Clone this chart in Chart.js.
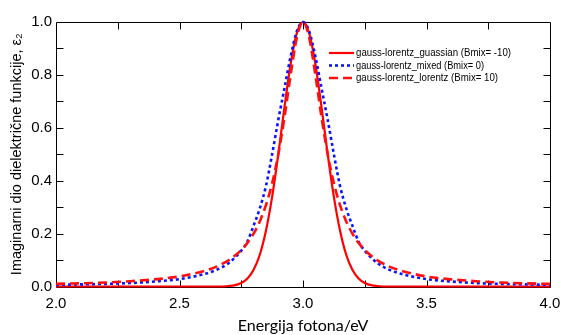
<!DOCTYPE html>
<html>
<head>
<meta charset="utf-8">
<script src="https://cdn.jsdelivr.net/npm/chart.js@4.4.1/dist/chart.umd.min.js"></script>
<style>
  html, body { margin: 0; padding: 0; background: #fff; }
</style>
</head>
<body>
<canvas id="myChart" width="564" height="335"></canvas>
<script>
// energija fotona (eV)
const energy = [2.0, 2.1, 2.2, 2.3, 2.4, 2.5, 2.6, 2.65, 2.7, 2.725, 2.75, 2.775, 2.8, 2.825, 2.85, 2.875, 2.9, 2.925, 2.95, 2.975, 3.0,
                3.025, 3.05, 3.075, 3.1, 3.125, 3.15, 3.175, 3.2, 3.225, 3.25, 3.275, 3.3, 3.35, 3.4, 3.5, 3.6, 3.7, 3.8, 3.9, 4.0]

// Bmix = -10
const gaussian = [0, 0, 0, 0, 0, 0, 0, 0, 0.002, 0.005, 0.013, 0.030, 0.063, 0.120, 0.211, 0.339, 0.500, 0.678, 0.841, 0.958, 1.000,
                  0.958, 0.841, 0.678, 0.500, 0.339, 0.211, 0.120, 0.063, 0.030, 0.013, 0.005, 0.002, 0, 0, 0, 0, 0, 0, 0, 0]

// Bmix = 0
const mixed = [0.006, 0.008, 0.010, 0.013, 0.019, 0.028, 0.047, 0.063, 0.089, 0.110, 0.135, 0.170, 0.230, 0.295, 0.380, 0.500, 0.630, 0.750, 0.870, 0.965, 1.000,
               0.965, 0.870, 0.750, 0.630, 0.500, 0.380, 0.295, 0.230, 0.170, 0.135, 0.110, 0.089, 0.063, 0.047, 0.028, 0.019, 0.013, 0.010, 0.008, 0.006]

// Bmix = 10
const lorentz = [0.010, 0.012, 0.015, 0.020, 0.027, 0.038, 0.059, 0.075, 0.100, 0.117, 0.138, 0.165, 0.200, 0.246, 0.308, 0.390, 0.500, 0.640, 0.800, 0.941, 1.000,
                 0.941, 0.800, 0.640, 0.500, 0.390, 0.308, 0.246, 0.200, 0.165, 0.138, 0.117, 0.100, 0.075, 0.059, 0.038, 0.027, 0.020, 0.015, 0.012, 0.010]

const seriesLabels = ['gauss-lorentz_guassian (Bmix= -10)', 'gauss-lorentz_mixed (Bmix= 0)', 'gauss-lorentz_lorentz (Bmix= 10)']

const xMinorTicks = [2.25, 2.5, 2.75, 3.0, 3.25, 3.5, 3.75]
const yMinorTicks = [0.1, 0.2, 0.3, 0.4, 0.5, 0.6, 0.7, 0.8, 0.9]

const fontFamily = '"Liberation Sans", Arial, sans-serif'

function toPoints(arr) {
    return energy.map((x, i) => ({ x: x, y: arr[i] }))
}

// okvir i unutarnje crtice
const framePlugin = {
    id: 'frame',
    beforeDatasetsDraw(chart) {
        const { ctx, chartArea: a, scales } = chart
        const L = Math.round(a.left) + 0.5, R = Math.round(a.right) + 0.5
        const T = Math.round(a.top) + 0.5, B = Math.round(a.bottom) + 0.5
        const len = 7
        ctx.save()
        ctx.strokeStyle = '#000'
        ctx.lineWidth = 1
        ctx.beginPath()
        ctx.rect(L, T, R - L, B - T)
        xMinorTicks.forEach(v => {
            const px = Math.round(scales.x.getPixelForValue(v)) + 0.5
            ctx.moveTo(px, B); ctx.lineTo(px, B - len)
            ctx.moveTo(px, T); ctx.lineTo(px, T + len)
        })
        yMinorTicks.forEach(v => {
            const py = Math.round(scales.y.getPixelForValue(v)) + 0.5
            ctx.moveTo(L, py); ctx.lineTo(L + len, py)
            ctx.moveTo(R, py); ctx.lineTo(R - len, py)
        })
        ctx.stroke()
        ctx.restore()
    }
}

// legenda unutar grafa
const legendPlugin = {
    id: 'innerLegend',
    afterDatasetsDraw(chart) {
        const { ctx } = chart
        const rows = [53, 65.5, 78]
        ctx.save()
        ctx.font = '11px ' + fontFamily
        ctx.textBaseline = 'middle'
        ctx.fillStyle = '#000'
        chart.data.datasets.forEach((ds, i) => {
            ctx.strokeStyle = ds.borderColor
            ctx.lineWidth = ds.borderWidth
            ctx.setLineDash(ds.borderDash || [])
            ctx.beginPath()
            ctx.moveTo(329, rows[i])
            ctx.lineTo(354, rows[i])
            ctx.stroke()
            ctx.setLineDash([])
            const txt = ds.label
            const w = ctx.measureText(txt).width
            const target = [155, 128, 142][i]
            ctx.save()
            ctx.translate(356, rows[i])
            ctx.scale(target / w, 1)
            ctx.fillText(txt, 0, 0)
            ctx.restore()
        })
        ctx.restore()
    }
}

const ctx = document.getElementById('myChart')
const chart = new Chart(ctx, {
    type: 'line',
    data: {
        datasets: [
            {
                label: seriesLabels[0],
                data: toPoints(gaussian),
                borderColor: '#ff0000',
                borderWidth: 2.2,
                order: 2
            },
            {
                label: seriesLabels[1],
                data: toPoints(mixed),
                borderColor: '#0a14ff',
                borderWidth: 2.6,
                borderDash: [3, 3],
                order: 1
            },
            {
                label: seriesLabels[2],
                data: toPoints(lorentz),
                borderColor: '#ff1010',
                borderWidth: 2.6,
                borderDash: [9, 5],
                order: 0
            }
        ]
    },
    options: {
        responsive: false,
        animation: false,
        events: [],
        clip: false,
        layout: { padding: { left: 0, right: 14, top: 22, bottom: 0 } },
        elements: {
            point: { radius: 0 },
            line: { cubicInterpolationMode: 'monotone', fill: false }
        },
        plugins: {
            legend: { display: false },
            tooltip: { enabled: false }
        },
        scales: {
            x: {
                type: 'linear',
                min: 2,
                max: 4,
                afterFit: s => {
                    s.height = 48.5
                    s.paddingLeft = 0
                    s.paddingRight = 0
                },
                grid: { display: false, drawTicks: false },
                border: { display: false },
                ticks: {
                    stepSize: 0.5,
                    padding: 8,
                    color: '#000',
                    font: { family: fontFamily, size: 15 },
                    callback: v => v.toFixed(1)
                },
                title: {
                    display: true,
                    text: 'Energija fotona/eV',
                    color: '#000',
                    font: { family: 'Lato, "Open Sans", sans-serif', size: 16 },
                    padding: { top: 0, bottom: 0 }
                }
            },
            y: {
                min: 0,
                max: 1,
                afterFit: s => { s.width = 56 },
                grid: { display: false, drawTicks: false },
                border: { display: false },
                ticks: {
                    stepSize: 0.2,
                    padding: 4,
                    color: '#000',
                    font: { family: fontFamily, size: 15 },
                    callback: v => v.toFixed(1)
                },
                title: {
                    display: true,
                    text: 'Imaginarni dio dielektrične funkcije, ε₂',
                    color: '#000',
                    font: { family: fontFamily, size: 14.5 },
                    padding: { top: 8, bottom: 0 }
                }
            }
        }
    },
    plugins: [framePlugin, legendPlugin]
})
</script>
</body>
</html>
